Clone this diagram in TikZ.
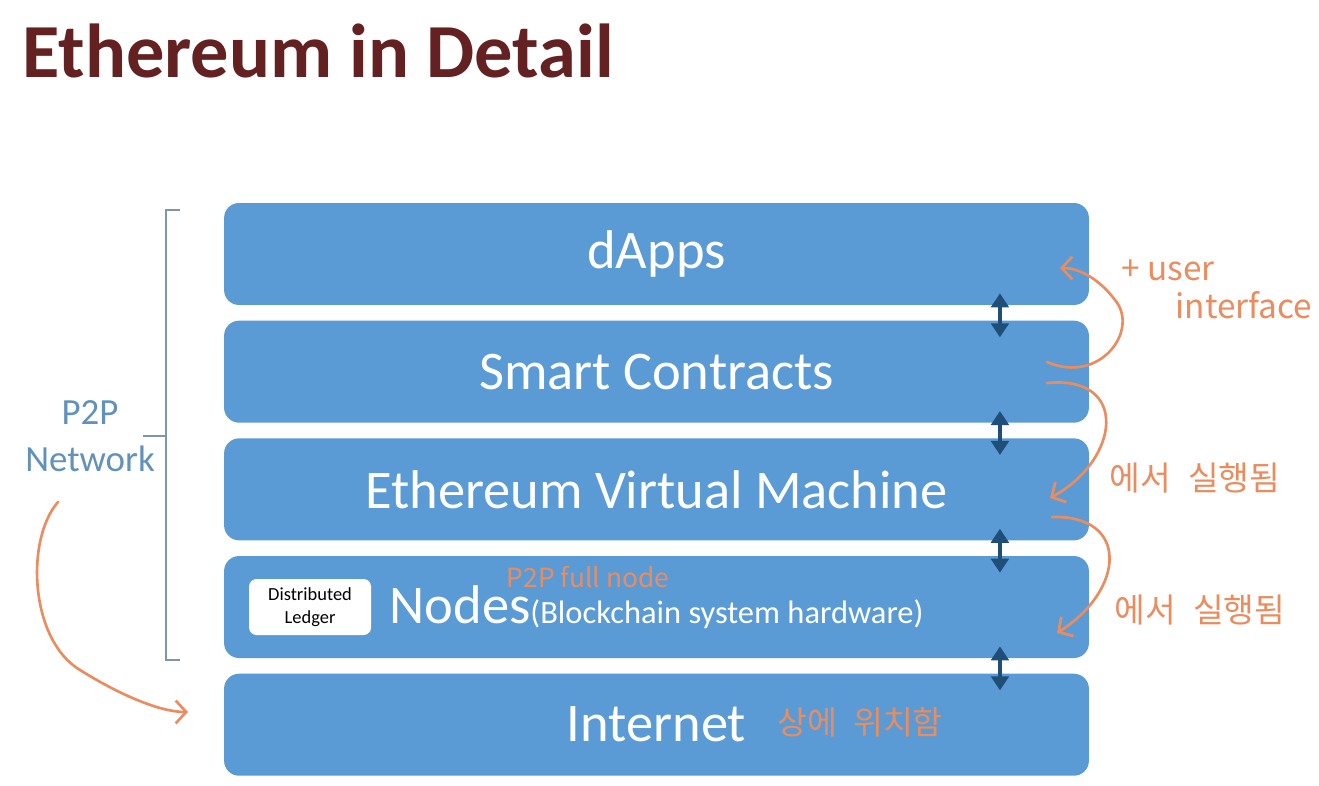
\documentclass[tikz,border=0pt]{standalone}
\usepackage{fontspec}
\setmainfont{Carlito}
\newfontfamily\kr{Noto Sans CJK KR}
\usetikzlibrary{positioning,arrows.meta}

\definecolor{layerblue}{RGB}{91,155,213}
\definecolor{arrowblue}{RGB}{31,78,121}
\definecolor{titlered}{RGB}{99,33,33}
\definecolor{netblue}{RGB}{98,146,186}
\definecolor{bracegray}{RGB}{125,150,172}
\definecolor{anno}{RGB}{234,140,94}

\begin{document}
\begin{tikzpicture}[x=0.02cm, y=-0.02cm, node distance=0.3cm,
  layer/.style = {fill=layerblue, rounded corners=0.3cm, minimum width=17.3cm, minimum height=2.04cm, text=white, font=\fontsize{31}{37}\selectfont},
  link/.style = {{Triangle[width=10pt,length=8pt]}-{Triangle[width=10pt,length=8pt]}, arrowblue, line width=2pt},
  note/.style = {text=anno, inner sep=0pt, font=\kr\fontsize{19}{22}\selectfont},
  hand/.style = {-{Straight Barb[length=6pt,width=13pt]}, anno, line width=1.5pt, line cap=round}]
\useasboundingbox (0,0) rectangle (1319,786);
\fill[white] (0,0) rectangle (1319,786);

% title
\node[anchor=base west, inner sep=0pt, text=titlered, font=\bfseries\fontsize{43.5}{50}\selectfont] (title) at (22,78) {Ethereum in Detail};

% layers
\node[layer] (1) at (656.5,254) {dApps};
\node[layer] (2) [below=of 1] {Smart Contracts};
\node[layer] (3) [below=of 2] {Ethereum Virtual Machine};
\node[layer] (4) [below=of 3] {Nodes{\fontsize{18.5}{22}\selectfont(Blockchain system hardware)}};
\node[layer] (5) [below=of 4] {Internet};
\node[fill=white, rounded corners=0.15cm, minimum width=2.44cm, minimum height=1.12cm, align=center, font=\fontsize{10.5}{13}\selectfont] (dl) [right=0.5cm of 4.west] {Distributed\\Ledger};

\foreach \a/\b in {1/2,2/3,3/4,4/5}
  \draw[link] ([xshift=6.87cm,yshift=0.24cm]\a.south) -- ([xshift=6.87cm,yshift=-0.34cm]\b.north);

% p2p bracket
\draw[bracegray, line width=1pt] (180,210) -- (166,210) -- (166,660) -- (180,660);
\draw[bracegray, line width=1pt] (166,436) -- (143,436);
\node[text=netblue, align=center, font=\fontsize{21}{26.6}\selectfont] (p2p) at (90,436) {P2P\\Network};

% notes
\node[note] (ui1) at (1168,270) {+ user};
\node[note] (ui2) at (1244,305) {interface};
\node[note] (ex1) at (1195,478) {에서\enspace 실행됨};
\node[note] (ex2) at (1200,610) {에서\enspace 실행됨};
\node[note, font=\kr\fontsize{18.5}{22}\selectfont] (on) at (860,722) {상에\enspace 위치함};
\node[note, font=\kr\fontsize{15}{18}\selectfont] (full) at (588,577) {P2P full node};

\coordinate (a0) at (58,502);  \coordinate (b0) at (188,712);
\coordinate (a1) at (1047,362); \coordinate (b1) at (1060,268);
\coordinate (a2) at (1047,383); \coordinate (b2) at (1050,498);
\coordinate (a3) at (1052,517); \coordinate (b3) at (1057,633);
\draw[hand] (a0) .. controls (25,540) and (30,640) .. (80,670) .. controls (120,695) and (160,712) .. (b0);
\draw[hand] (a1) .. controls (1100,385) and (1140,330) .. (1115,300) .. controls (1100,280) and (1080,268) .. (b1);
\draw[hand] (a2) .. controls (1130,375) and (1120,460) .. (b2);
\draw[hand] (a3) .. controls (1130,515) and (1125,590) .. (b3);
\end{tikzpicture}
\end{document}
